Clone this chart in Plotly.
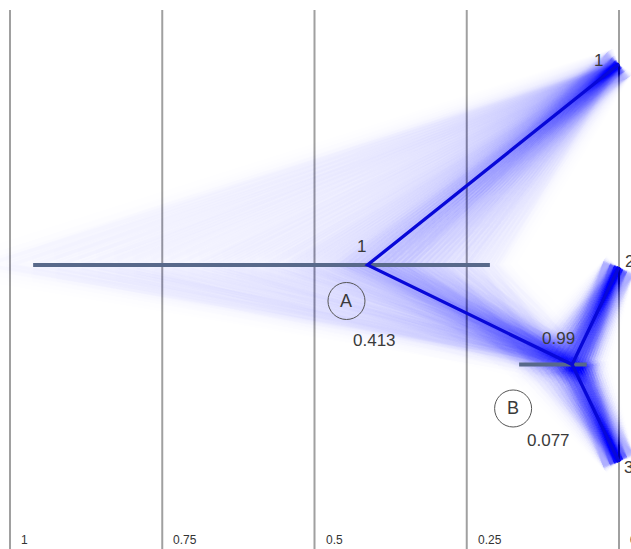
import plotly.graph_objects as go

# ---- data ----
tick_values = [1, 0.75, 0.5, 0.25, 0]
tick_labels = ["1", "0.75", "0.5", "0.25", "0"]

tip_names = ["1", "2", "3"]
tip_y = [0.0, 1.02, 2.0]

nodeA_height = 0.413
nodeA_y = 1.01
nodeA_support = "1"
nodeA_hpd = [0.962, 0.212]

nodeB_height = 0.077
nodeB_y = 1.51
nodeB_support = "0.99"
nodeB_hpd = [0.164, 0.053]

# sampled node heights of the posterior trees (read from the haze)
sample_A = [0.20, 0.21, 0.22, 0.23, 0.24, 0.25, 0.25, 0.26, 0.27, 0.27,
            0.28, 0.29, 0.29, 0.30, 0.30, 0.31, 0.31, 0.32, 0.32, 0.33,
            0.33, 0.34, 0.34, 0.35, 0.35, 0.36, 0.36, 0.37, 0.37, 0.38,
            0.38, 0.39, 0.39, 0.40, 0.40, 0.41, 0.41, 0.42, 0.42, 0.43,
            0.43, 0.44, 0.45, 0.45, 0.46, 0.47, 0.48, 0.49, 0.50, 0.51,
            0.52, 0.53, 0.54, 0.55, 0.57, 0.58, 0.60, 0.62, 0.64, 0.66,
            0.68, 0.70, 0.73, 0.76, 0.79, 0.82, 0.85, 0.88, 0.92, 0.96,
            1.00, 1.04, 0.36, 0.40, 0.44, 0.38, 0.42, 0.35, 0.46, 0.39]
sample_B = [0.045, 0.09, 0.06, 0.12, 0.07, 0.05, 0.08, 0.10, 0.065, 0.075,
            0.14, 0.055, 0.085, 0.07, 0.11, 0.06, 0.08, 0.095, 0.075, 0.13,
            0.05, 0.07, 0.09, 0.065, 0.16, 0.08, 0.06, 0.10, 0.075, 0.055,
            0.085, 0.12, 0.07, 0.09, 0.065, 0.08, 0.15, 0.06, 0.075, 0.10,
            0.07, 0.04, 0.08, 0.065, 0.11, 0.055, 0.09, 0.075, 0.06, 0.13,
            0.07, 0.085, 0.05, 0.10, 0.065, 0.08, 0.06, 0.095, 0.07, 0.12,
            0.075, 0.06, 0.09, 0.05, 0.08, 0.14, 0.065, 0.07, 0.10, 0.055,
            0.085, 0.075, 0.06, 0.11, 0.07, 0.09, 0.045, 0.08, 0.065, 0.10]

W, H = 631, 549
x_range = [619 / 609, -12 / 609]
y_range = [2.4372, -0.3216]

def tree_path(a, b):
    xs = [0, a, b, 0, None, b, 0]
    ys = [tip_y[0], nodeA_y, nodeB_y, tip_y[1], None, nodeB_y, tip_y[2]]
    return xs, ys

fig = go.Figure()

# haze: soft, layered strokes of every sampled tree
haze_layers = [(34, 0.003), (20, 0.0055), (10, 0.009), (4, 0.012)]
for width, alpha in haze_layers:
    for a, b in zip(sample_A, sample_B):
        xs, ys = tree_path(a, b)
        fig.add_trace(go.Scatter(x=xs, y=ys, mode="lines", hoverinfo="skip",
                                 line=dict(color=f"rgba(30,30,255,{alpha})", width=width)))

# HPD bars
fig.add_trace(go.Scatter(x=nodeA_hpd, y=[nodeA_y, nodeA_y], mode="lines", hoverinfo="skip",
                         line=dict(color="#58698a", width=4)))
fig.add_trace(go.Scatter(x=nodeB_hpd, y=[nodeB_y, nodeB_y], mode="lines", hoverinfo="skip",
                         line=dict(color="#58698a", width=4)))

# consensus tree
xs, ys = tree_path(nodeA_height, nodeB_height)
fig.add_trace(go.Scatter(x=xs, y=ys, mode="lines", hoverinfo="skip",
                         line=dict(color="#0808d8", width=3.3)))

shapes = []
annotations = []
txt = dict(family="Liberation Sans, Arial, sans-serif", color="#3a3a3a")

for v, lab in zip(tick_values, tick_labels):
    shapes.append(dict(type="line", xref="x", yref="paper", x0=v, x1=v, y0=0, y1=(H - 10) / H,
                       line=dict(color="#a0a0a0", width=2), layer="below"))
    annotations.append(dict(x=v, y=(H - 540) / H, xref="x", yref="paper", text=lab,
                            showarrow=False, xanchor="left", yanchor="middle", xshift=9,
                            font=dict(size=12, family=txt["family"], color="#333333")))

# tip labels
tip_shifts = [(-21, 4), (10, 5), (9, -5)]
for name, y, (dx, dy) in zip(tip_names, tip_y, tip_shifts):
    annotations.append(dict(x=0, y=y, text=name, showarrow=False, xshift=dx, yshift=dy,
                            font=dict(size=17, **txt)))

def node_labels(h, y, support, name, sup_shift, circ_shift, val_shift):
    annotations.append(dict(x=h, y=y, text=support, showarrow=False,
                            xshift=sup_shift[0], yshift=sup_shift[1], font=dict(size=17, **txt)))
    annotations.append(dict(x=h, y=y, text=name, showarrow=False,
                            xshift=circ_shift[0], yshift=circ_shift[1], font=dict(size=18, **txt)))
    annotations.append(dict(x=h, y=y, text=f"{h:g}", showarrow=False,
                            xshift=val_shift[0], yshift=val_shift[1], font=dict(size=17, **txt)))
    cx, cy = circ_shift
    shapes.append(dict(type="circle", xref="x", yref="y", xsizemode="pixel", ysizemode="pixel",
                       xanchor=h, yanchor=y, x0=cx - 18.5, x1=cx + 18.5, y0=cy - 18.5, y1=cy + 18.5,
                       line=dict(color="#555555", width=1)))

node_labels(nodeA_height, nodeA_y, nodeA_support, "A", (-6, 18), (-21, -36), (7, -76))
node_labels(nodeB_height, nodeB_y, nodeB_support, "B", (-14, 26), (-59, -44), (-24, -76))

fig.update_layout(
    width=W, height=H, margin=dict(l=0, r=0, t=0, b=0),
    paper_bgcolor="white", plot_bgcolor="white", showlegend=False,
    xaxis=dict(range=x_range, visible=False, fixedrange=True),
    yaxis=dict(range=y_range, visible=False, fixedrange=True),
    shapes=shapes, annotations=annotations,
)

fig.write_html("out.html")
